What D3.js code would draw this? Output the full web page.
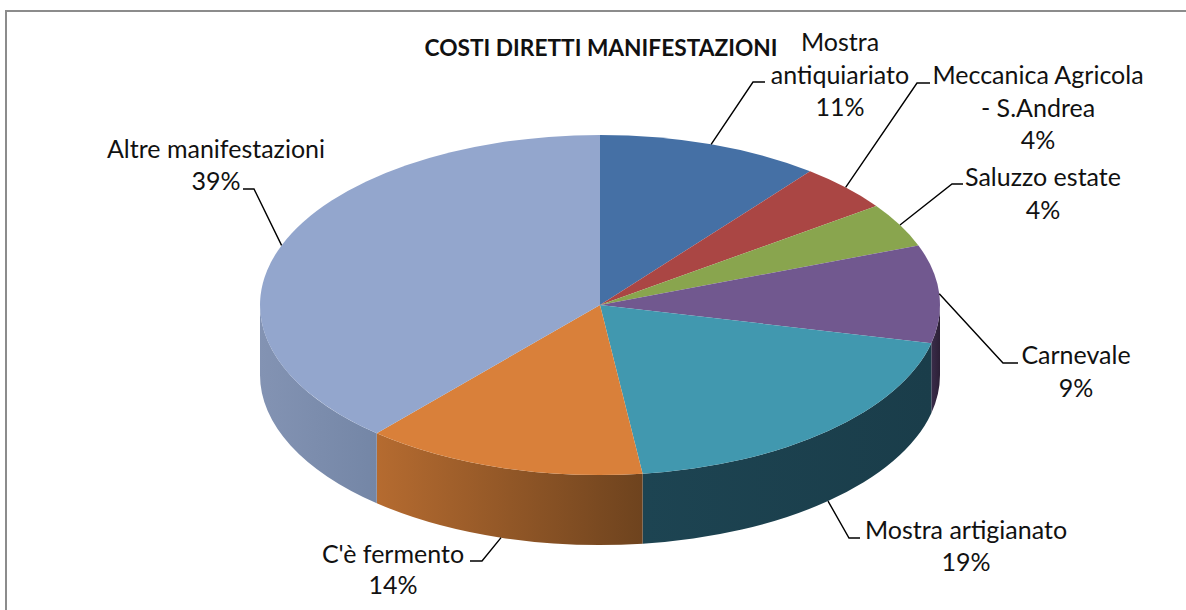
<!DOCTYPE html>
<html><head><meta charset="utf-8">
<script src="https://cdn.jsdelivr.net/npm/d3@7"></script>
<style>html,body{margin:0;padding:0;background:#fff}svg{display:block}text{font-family:Lato,"Open Sans",sans-serif;fill:#111}</style>
</head><body><svg id="c" width="1186" height="610"></svg>
<script>
const titleText = "COSTI DIRETTI MANIFESTAZIONI";
const categories = ["Mostra antiquiariato","Meccanica Agricola - S.Andrea","Saluzzo estate","Carnevale","Mostra artigianato","C'è fermento","Altre manifestazioni"];
const values = [10.6,4.5,4.2,9.3,19.4,13.4,38.6];
const percentLabels = ["11%","4%","4%","9%","19%","14%","39%"];
const labelLines = [["Mostra","antiquiariato","11%"],["Meccanica Agricola","- S.Andrea","4%"],["Saluzzo estate","4%"],["Carnevale","9%"],["Mostra artigianato","19%"],["C'è fermento","14%"],["Altre manifestazioni","39%"]];
const topColors = ["#4570a5","#aa4644","#89a54e","#71588f","#4198af","#d9803a","#93a6cd"];
const sideLeft = ["#4570a5","#aa4644","#89a54e","#3a2c4a","#1d4452","#b56b30","#8393b3"];
const sideRight = ["#4570a5","#aa4644","#89a54e","#2c2036","#1a3d4a","#6e431e","#7486a6"];

// layout
const cx=600, cy=305, rx=340, ry=170, depth=70;
const labelPos=[[840,51],[1038,84],[1043,186],[1076,364],[966,539],[393,563],[216,158]];
const elbows=[[753,82,765,82],[917,83,930,83],[952,184,963,184],[1003,363,1018,363],[849,538,860,538],[482,561,470,561],[254,189,243,189]];
const lineHeight=[32.5,32.5,33,33,32,31,32];

const svg=d3.select("#c");
const defs=svg.append("defs");
// the frame shows only on the top and left in the reference
svg.append("path").attr("d","M6,610V11H1186").attr("fill","none").attr("stroke","#8c8c8c").attr("stroke-width",2);

const arcs=d3.pie().sort(null).value(d=>d)(values);
const px=a=>cx+rx*Math.sin(a), py=a=>cy-ry*Math.cos(a);
function topPath(d){
  const large=d.endAngle-d.startAngle>Math.PI?1:0;
  return `M${cx},${cy}L${px(d.startAngle)},${py(d.startAngle)}A${rx},${ry} 0 ${large} 1 ${px(d.endAngle)},${py(d.endAngle)}Z`;
}
function sidePath(d){
  const a0=Math.max(d.startAngle,Math.PI/2), a1=Math.min(d.endAngle,1.5*Math.PI);
  if(a1<=a0) return null;
  return `M${px(a0)},${py(a0)}A${rx},${ry} 0 0 1 ${px(a1)},${py(a1)}L${px(a1)},${py(a1)+depth}A${rx},${ry} 0 0 0 ${px(a0)},${py(a0)+depth}Z`;
}
arcs.forEach((d,i)=>{
  const g=defs.append("linearGradient").attr("id","s"+i).attr("x1",0).attr("x2",1).attr("y1",0).attr("y2",0);
  g.append("stop").attr("offset",0).attr("stop-color",sideLeft[i]);
  g.append("stop").attr("offset",1).attr("stop-color",sideRight[i]);
});
svg.append("g").selectAll("path").data(arcs.filter(sidePath)).join("path")
  .attr("d",sidePath).attr("fill",d=>`url(#s${d.index})`);
svg.append("g").selectAll("path").data(arcs).join("path")
  .attr("d",topPath).attr("fill",d=>topColors[d.index]);

// leader lines start on the pie's rim at each slice's mid angle
const line=d3.line();
svg.append("g").selectAll("path").data(arcs).join("path")
  .attr("fill","none").attr("stroke","#000").attr("stroke-width",1.4)
  .attr("d",d=>{
    const m=(d.startAngle+d.endAngle)/2, onSide=Math.cos(m)<0;
    const e=elbows[d.index];
    return line([[px(m),py(m)+(onSide?depth:0)],[e[0],e[1]],[e[2],e[3]]]);
  });

const lab=svg.append("g").selectAll("text").data(categories).join("text")
  .attr("text-anchor","middle").attr("font-size",25)
  .attr("transform",(d,i)=>`translate(${labelPos[i][0]},${labelPos[i][1]})`);
lab.selectAll("tspan").data((d,i)=>labelLines[i].map(t=>({t,i}))).join("tspan")
  .attr("x",0).attr("y",(d,j)=>j*lineHeight[d.i]).text(d=>d.t);
svg.append("text").attr("x",601).attr("y",56).attr("text-anchor","middle")
  .attr("font-size",22.7).attr("font-weight",700).text(titleText);
</script></body></html>
